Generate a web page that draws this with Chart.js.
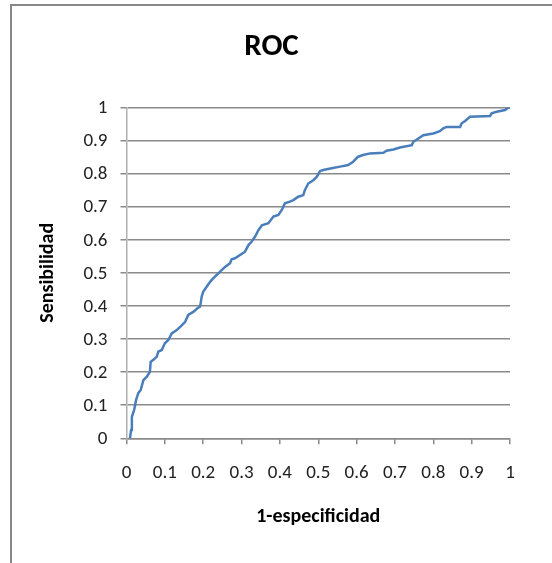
<!DOCTYPE html>
<html>
<head>
<meta charset="utf-8">
<title>ROC</title>
<script src="https://cdn.jsdelivr.net/npm/chart.js@4/dist/chart.umd.min.js"></script>
<style>
  html, body { margin: 0; padding: 0; background: #fff; overflow: hidden; }
  #frame { position: absolute; left: 10px; top: 4px; width: 620px; height: 640px; border: 2px solid #878787; }
  #wrap { position: absolute; left: 0; top: 0; width: 552px; height: 563px; }
</style>
</head>
<body>
<div id="frame"></div>
<div id="wrap"><canvas id="roc" width="552" height="563"></canvas></div>
<script>
// ROC curve, values
const fpr = [
  0.009, 0.012, 0.014, 0.020, 0.025, 0.031, 0.037, 0.044, 0.053, 0.061,
  0.063, 0.070, 0.079, 0.083, 0.092, 0.100, 0.109, 0.118, 0.131, 0.140,
  0.153, 0.161, 0.174, 0.185, 0.192, 0.196, 0.200, 0.209, 0.218, 0.226,
  0.239, 0.248, 0.257, 0.270, 0.274, 0.283, 0.296, 0.309, 0.318, 0.326,
  0.335, 0.344, 0.353, 0.370, 0.383, 0.396, 0.405, 0.413, 0.426, 0.435,
  0.448, 0.461, 0.465, 0.474, 0.487, 0.496, 0.505, 0.513, 0.535, 0.557,
  0.578, 0.591, 0.604, 0.617, 0.635, 0.670, 0.678, 0.696, 0.713, 0.744,
  0.748, 0.761, 0.774, 0.800, 0.817, 0.826, 0.835, 0.870, 0.874, 0.883,
  0.891, 0.896, 0.948, 0.952, 0.965, 0.987, 0.996, 1.000
];
const tpr = [
  0.000, 0.025, 0.065, 0.086, 0.116, 0.137, 0.146, 0.176, 0.186, 0.201,
  0.231, 0.237, 0.247, 0.262, 0.267, 0.287, 0.297, 0.317, 0.327, 0.337,
  0.352, 0.373, 0.382, 0.393, 0.398, 0.428, 0.443, 0.458, 0.473, 0.483,
  0.498, 0.508, 0.518, 0.529, 0.541, 0.544, 0.554, 0.564, 0.584, 0.594,
  0.609, 0.629, 0.644, 0.650, 0.670, 0.675, 0.690, 0.710, 0.715, 0.720,
  0.730, 0.735, 0.750, 0.770, 0.780, 0.790, 0.808, 0.811, 0.816, 0.821,
  0.826, 0.836, 0.851, 0.856, 0.861, 0.863, 0.869, 0.873, 0.879, 0.886,
  0.896, 0.906, 0.916, 0.921, 0.928, 0.937, 0.941, 0.941, 0.952, 0.959,
  0.967, 0.972, 0.974, 0.982, 0.987, 0.992, 1.000, 1.000
];
const tickStep = 0.1;

const points = fpr.map((x, i) => ({ x: x, y: tpr[i] }));
const fontFam = "Carlito, Lato, sans-serif";
const gridGray = "#8a8a8a";

const fmt = (v) => String(Math.round(v * 10) / 10);

// tick labels drawn at the scales' own tick positions
const tickLabels = {
  id: "tickLabels",
  afterDraw(chart) {
    const ctx = chart.ctx;
    const xs = chart.scales.x;
    const ys = chart.scales.y;
    ctx.save();
    ctx.font = "19px " + fontFam;
    ctx.fillStyle = "#222";
    ctx.textBaseline = "middle";
    ctx.textAlign = "center";
    xs.ticks.forEach((t) => ctx.fillText(fmt(t.value), xs.getPixelForValue(t.value), xs.top + 35));
    ctx.textAlign = "right";
    ys.ticks.forEach((t) => ctx.fillText(fmt(t.value), ys.right - 19, ys.getPixelForValue(t.value) + 1));
    ctx.restore();
  },
};

new Chart(document.getElementById("roc"), {
  type: "scatter",
  data: {
    datasets: [
      {
        label: "ROC",
        data: points,
        showLine: true,
        borderColor: "#4a7ebb",
        borderWidth: 2.5,
        pointRadius: 0,
        fill: false,
        tension: 0,
      },
    ],
  },
  plugins: [tickLabels],
  options: {
    responsive: false,
    animation: false,
    layout: { padding: { left: 33, right: 42, top: 0, bottom: 0 } },
    plugins: {
      legend: { display: false },
      tooltip: { enabled: false },
      title: {
        display: true,
        text: "ROC",
        color: "#000",
        font: { family: fontFam, size: 31, weight: "bold" },
        padding: { top: 29, bottom: 41.2 },
      },
    },
    scales: {
      x: {
        type: "linear",
        min: 0,
        max: 1,
        afterFit: (s) => { s.height = 124.7; },
        ticks: { stepSize: tickStep, display: false },
        grid: { drawOnChartArea: false, drawTicks: true, tickLength: 6, color: gridGray, lineWidth: 1.5 },
        border: { color: gridGray, width: 1.5 },
        title: {
          display: true,
          text: "1-especificidad",
          color: "#000",
          font: { family: fontFam, size: 20, weight: "bold" },
          padding: { bottom: 34 },
        },
      },
      y: {
        min: 0,
        max: 1,
        afterFit: (s) => { s.width = 93.5; },
        ticks: { stepSize: tickStep, display: false },
        grid: { drawTicks: true, tickLength: 6, color: gridGray, lineWidth: 1.5 },
        border: { color: "#b0b0b0", width: 1.5 },
        title: {
          display: true,
          text: "Sensibilidad",
          color: "#000",
          font: { family: fontFam, size: 20, weight: "bold" },
          padding: { top: 3 },
        },
      },
    },
  },
});
</script>
</body>
</html>
